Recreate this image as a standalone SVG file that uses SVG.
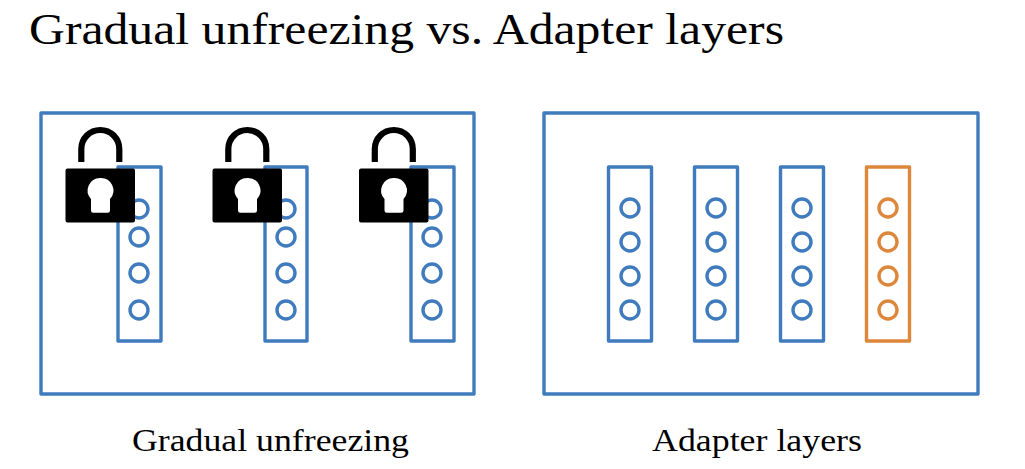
<svg xmlns="http://www.w3.org/2000/svg" width="1025" height="469" viewBox="0 0 1025 469">
<style>
.b{fill:none;stroke:#3f7bbd;stroke-width:3.400;stroke-linejoin:round}
.o{fill:none;stroke:#dd873b;stroke-width:3.400;stroke-linejoin:round}
text{font-family:"Liberation Serif","Times New Roman",serif;fill:#000}
.t{font-size:45px}
.c{font-size:31px}
</style>
<defs>
<g id="lock">
<path d="M81.300 162V149A19 19 0 0 1 119.300 149V162" fill="none" stroke="#000" stroke-width="6.200"/>
<path fill-rule="evenodd" fill="#000" d="M67.500 168.500H133Q135 168.500 135 170.500V220.500Q135 222.500 133 222.500H67.500Q65.500 222.500 65.500 220.500V170.500Q65.500 168.500 67.500 168.500ZM100 178A12.500 12.500 0 0 0 91 199V210.500Q91 212.800 93.300 212.800H107.700Q110 212.800 110 210.500V199A12.500 12.500 0 0 0 100 178Z"/>
</g>
</defs>
<rect width="1025" height="469" fill="#fff"/>
<text class="t" x="29" y="44" textLength="755" lengthAdjust="spacingAndGlyphs">Gradual unfreezing vs. Adapter layers</text>
<g id="gradual-panel"><rect class="b" x="41" y="113" width="433" height="281"/></g>
<g id="adapter-panel"><rect class="b" x="544" y="113" width="434" height="281"/></g>
<g id="g-layer-1"><rect class="b" x="118" y="167" width="43" height="174"/><circle class="b" cx="139" cy="209" r="9"/><circle class="b" cx="139" cy="237" r="9"/><circle class="b" cx="139" cy="273" r="9"/><circle class="b" cx="139" cy="310" r="9"/></g>
<g id="g-layer-2"><rect class="b" x="265" y="167" width="42" height="174"/><circle class="b" cx="286" cy="209" r="9"/><circle class="b" cx="286" cy="237" r="9"/><circle class="b" cx="286" cy="273" r="9"/><circle class="b" cx="286" cy="310" r="9"/></g>
<g id="g-layer-3"><rect class="b" x="411" y="167" width="43" height="174"/><circle class="b" cx="432" cy="209" r="9"/><circle class="b" cx="432" cy="237" r="9"/><circle class="b" cx="432" cy="273" r="9"/><circle class="b" cx="432" cy="310" r="9"/></g>
<g id="lock-1"><use href="#lock"/></g>
<g id="lock-2"><use href="#lock" x="147"/></g>
<g id="lock-3"><use href="#lock" x="293.500"/></g>
<g id="a-layer-1"><rect class="b" x="608.500" y="167" width="43" height="174"/><circle class="b" cx="630" cy="208" r="9"/><circle class="b" cx="630" cy="242" r="9"/><circle class="b" cx="630" cy="276" r="9"/><circle class="b" cx="630" cy="310" r="9"/></g>
<g id="a-layer-2"><rect class="b" x="694.500" y="167" width="43" height="174"/><circle class="b" cx="716" cy="208" r="9"/><circle class="b" cx="716" cy="242" r="9"/><circle class="b" cx="716" cy="276" r="9"/><circle class="b" cx="716" cy="310" r="9"/></g>
<g id="a-layer-3"><rect class="b" x="780.500" y="167" width="43" height="174"/><circle class="b" cx="802" cy="208" r="9"/><circle class="b" cx="802" cy="242" r="9"/><circle class="b" cx="802" cy="276" r="9"/><circle class="b" cx="802" cy="310" r="9"/></g>
<g id="a-layer-adapter"><rect class="o" x="866.500" y="167" width="43" height="174"/><circle class="o" cx="888" cy="208" r="9"/><circle class="o" cx="888" cy="242" r="9"/><circle class="o" cx="888" cy="276" r="9"/><circle class="o" cx="888" cy="310" r="9"/></g>
<g id="connectors"/>
<text class="c" x="132" y="451" textLength="277" lengthAdjust="spacingAndGlyphs">Gradual unfreezing</text>
<text class="c" x="652" y="451" textLength="210" lengthAdjust="spacingAndGlyphs">Adapter layers</text>
</svg>
